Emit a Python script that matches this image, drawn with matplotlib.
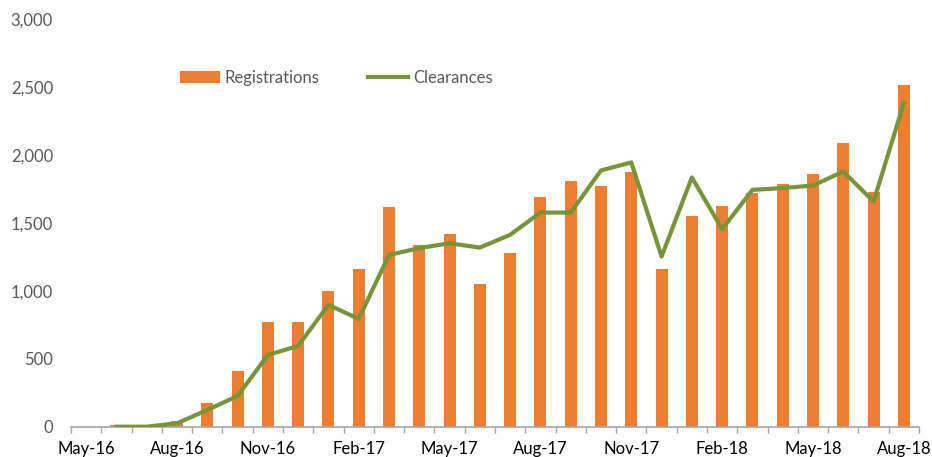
import numpy as np
import matplotlib
matplotlib.use("Agg")
import matplotlib.pyplot as plt

months = ['May-16', 'Jun-16', 'Jul-16', 'Aug-16', 'Sep-16', 'Oct-16', 'Nov-16',
          'Dec-16', 'Jan-17', 'Feb-17', 'Mar-17', 'Apr-17', 'May-17', 'Jun-17',
          'Jul-17', 'Aug-17', 'Sep-17', 'Oct-17', 'Nov-17', 'Dec-17', 'Jan-18',
          'Feb-18', 'Mar-18', 'Apr-18', 'May-18', 'Jun-18', 'Jul-18', 'Aug-18']
registrations = [0, 10, 5, 42, 177, 413, 769, 769, 1002, 1160, 1617, 1339, 1418, 1049,
                 1282, 1695, 1808, 1774, 1875, 1160, 1550, 1626, 1720, 1786, 1862,
                 2086, 1727, 2518]
clearances = [np.nan, 0, 0, 25, 123, 226, 528, 595, 897, 794, 1265, 1315, 1351, 1319,
              1413, 1577, 1577, 1887, 1946, 1253, 1835, 1455, 1744, 1757, 1776,
              1879, 1658, 2383]

plt.rcParams['font.family'] = ['Lato', 'DejaVu Sans']
grey = '#595959'

fig = plt.figure(figsize=(9.32, 4.57), dpi=100)
ax = fig.add_axes([71/932, 1 - 426.7/457, (919 - 71)/932, (426.7 - 19.3)/457])

x = np.arange(len(months))
bars = ax.bar(x, registrations, 0.4, color='#ED7D31', label='Registrations', zorder=2)
line, = ax.plot(x, clearances, color='#76953A', lw=3, label='Clearances', zorder=3)

ax.set_xlim(-0.5, len(months) - 0.5)
ax.set_ylim(0, 3000)
ax.set_yticks(range(0, 3001, 500))
ax.set_yticklabels(['{:,}'.format(v) for v in range(0, 3001, 500)])

ax.set_xticks(x[::3])
ax.set_xticklabels(months[::3])
ax.set_xticks(np.arange(-0.5, len(months), 1), minor=True)

for s in ['top', 'right', 'left']:
    ax.spines[s].set_visible(False)
ax.spines['bottom'].set_color('#A6A6A6')
ax.spines['bottom'].set_linewidth(1.2)

ax.tick_params(axis='y', length=0, pad=13, labelsize=12, labelcolor=grey)
ax.tick_params(axis='x', which='major', length=0, pad=10, labelsize=12, labelcolor='black')
ax.tick_params(axis='x', which='minor', length=4, width=1, color='#A6A6A6')

ax.legend([bars, line], ['Registrations', 'Clearances'],
          loc='center left', bbox_to_anchor=(180/932, 1 - 77.7/457),
          bbox_transform=fig.transFigure, ncol=2, frameon=False, fontsize=12,
          borderpad=0, borderaxespad=0, handlelength=2.4, handletextpad=0.3,
          columnspacing=2.9, labelcolor=grey)

plt.savefig("out.png")
